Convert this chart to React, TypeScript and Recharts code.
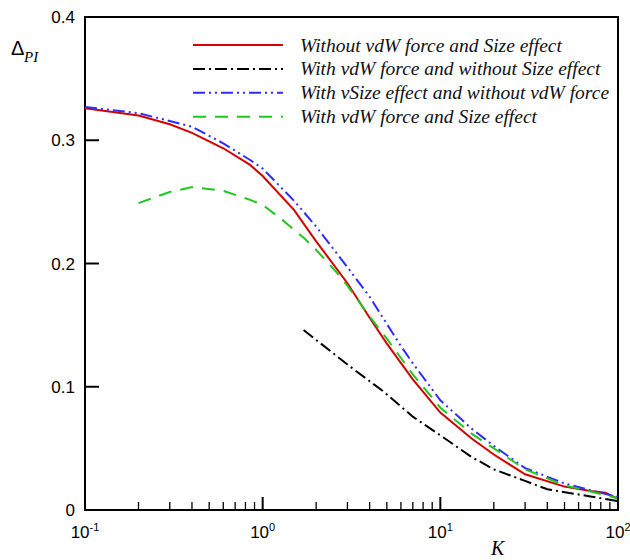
import React from "react";
import { LineChart, Line, XAxis, YAxis, ReferenceArea } from "recharts";

// K values and Delta_PI, one pair of arrays per curve
const redK = [0.1, 0.2, 0.3, 0.4, 0.6, 0.85, 1, 1.5, 2, 3, 4, 5, 7, 10, 15, 20, 30, 50, 70, 85, 100];
const redVal = [0.326, 0.32, 0.313, 0.306, 0.2935, 0.28, 0.271, 0.2435, 0.218, 0.184, 0.156, 0.135, 0.106, 0.079, 0.058, 0.045, 0.029, 0.019, 0.0155, 0.014, 0.009];

const blackK = [1.7, 2, 3, 4.8, 7, 10, 15, 20, 30, 40, 70, 100];
const blackVal = [0.146, 0.138, 0.118, 0.096, 0.0757, 0.0606, 0.043, 0.033, 0.0236, 0.0168, 0.011, 0.0072];

const blueK = [0.1, 0.2, 0.4, 0.6, 0.85, 1, 1.5, 2, 3, 4, 6, 7, 10, 15, 20, 30, 50, 70, 100];
const blueVal = [0.327, 0.322, 0.311, 0.2975, 0.284, 0.277, 0.251, 0.23, 0.197, 0.173, 0.133, 0.119, 0.089, 0.066, 0.052, 0.034, 0.0215, 0.016, 0.0105];

const greenK = [0.2, 0.3, 0.4, 0.6, 0.85, 1, 1.3, 1.7, 2, 2.6, 3, 4, 5, 7, 10, 15, 20, 30, 50, 70, 100];
const greenVal = [0.249, 0.258, 0.262, 0.259, 0.2516, 0.2476, 0.235, 0.221, 0.211, 0.193, 0.182, 0.157, 0.139, 0.11, 0.083, 0.062, 0.05, 0.033, 0.02, 0.015, 0.0095];

const xTicks = [0.1, 0.2, 0.3, 0.4, 0.5, 0.6, 0.7, 0.8, 0.9, 1, 2, 3, 4, 5, 6, 7, 8, 9, 10, 20, 30, 40, 50, 60, 70, 80, 90, 100];
const yTicks = [0, 0.1, 0.2, 0.3, 0.4];
const yTickLabels = ["0", "0.1", "0.2", "0.3", "0.4"];

const zip = (ks: number[], vs: number[]) => ks.map((k, i) => ({ k, v: vs[i] }));

const SERIES = [
  { name: "Without vdW force and Size effect", data: zip(redK, redVal), color: "#d40000", dash: undefined },
  { name: "With vdW force and without Size effect", data: zip(blackK, blackVal), color: "#000000", dash: "12 4 2 4" },
  { name: "With vSize effect and without vdW force", data: zip(blueK, blueVal), color: "#2d2dff", dash: "12 4 2 4 2 4" },
  { name: "With vdW force and Size effect", data: zip(greenK, greenVal), color: "#1ec81e", dash: "13 9" },
];

const SANS = "'Liberation Sans', Arial, sans-serif";
const SERIF = "'Liberation Serif', 'Times New Roman', serif";

const XTick = (props: any) => {
  const { x, y, payload } = props;
  const lg = Math.log10(payload.value);
  const major = Math.abs(lg - Math.round(lg)) < 1e-6;
  return (
    <g>
      <line x1={x} x2={x} y1={y} y2={y - (major ? 13 : 8)} stroke="#000" strokeWidth={major ? 2 : 1.3} />
      {major && (
        <text x={x} y={y + 28} textAnchor="middle" fontFamily={SANS} fontSize={17} fill="#000">
          10<tspan dy={-7} fontSize={11}>{Math.round(lg)}</tspan>
        </text>
      )}
    </g>
  );
};

const YTick = (props: any) => {
  const { x, y, payload } = props;
  const i = yTicks.indexOf(payload.value);
  return (
    <g>
      <line x1={x} x2={x + 14} y1={y} y2={y} stroke="#000" strokeWidth={2} />
      <text x={x - 10} y={y + 6} textAnchor="end" fontFamily={SANS} fontSize={17} fill="#000">
        {yTickLabels[i]}
      </text>
    </g>
  );
};

export default function App() {
  return (
    <div style={{ position: "absolute", left: 0, top: 0, width: 630, height: 560, background: "#fff" }}>
      <LineChart width={630} height={560} margin={{ top: 17, right: 12, bottom: 0, left: 0 }}>
        <XAxis
          dataKey="k"
          type="number"
          scale="log"
          domain={[0.1, 100]}
          ticks={xTicks}
          interval={0}
          allowDataOverflow
          height={50}
          tickSize={0}
          tickMargin={0}
          axisLine={false}
          tick={<XTick />}
        />
        <YAxis
          type="number"
          domain={[0, 0.4]}
          ticks={yTicks}
          interval={0}
          width={85}
          tickSize={0}
          tickMargin={0}
          axisLine={false}
          tick={<YTick />}
        />
        {SERIES.map((s) => (
          <Line
            key={s.name}
            data={s.data}
            dataKey="v"
            type="linear"
            stroke={s.color}
            strokeWidth={2}
            strokeDasharray={s.dash}
            dot={false}
            activeDot={false}
            isAnimationActive={false}
          />
        ))}
        <ReferenceArea x1={0.1} x2={100} y1={0} y2={0.4} fill="none" stroke="#000" strokeWidth={2} ifOverflow="visible" />
      </LineChart>

      {/* legend and axis titles */}
      <svg width={630} height={560} style={{ position: "absolute", left: 0, top: 0, pointerEvents: "none" }}>
        {SERIES.map((s, i) => {
          const cy = 45 + i * 23.9;
          return (
            <g key={s.name}>
              <line x1={193} x2={283} y1={cy} y2={cy} stroke={s.color} strokeWidth={2} strokeDasharray={s.dash} />
              <text x={300} y={cy + 6.5} fontFamily={SERIF} fontStyle="italic" fontSize={19.5} fill="#111">
                {s.name}
              </text>
            </g>
          );
        })}
        <text x={11} y={55} fontFamily={SANS} fontSize={20} fill="#000">Δ</text>
        <text x={24} y={61.5} fontFamily={SERIF} fontStyle="italic" fontSize={15} fill="#000">PI</text>
        <text x={491} y={555} fontFamily={SERIF} fontStyle="italic" fontSize={20} fill="#000">K</text>
      </svg>
    </div>
  );
}
